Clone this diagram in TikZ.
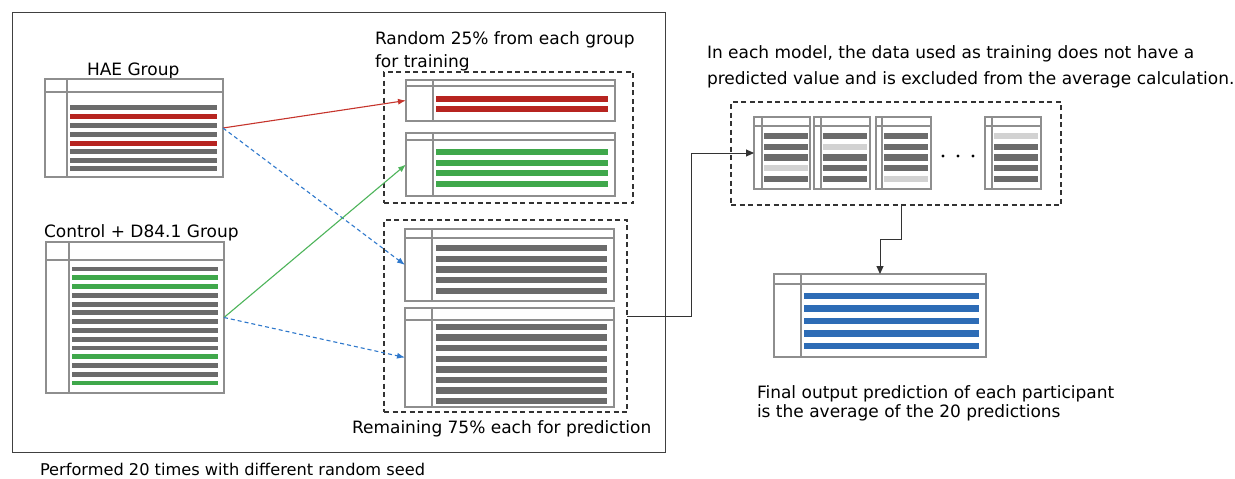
\documentclass[tikz,border=0pt]{standalone}
\usepackage{fontspec}
\setmainfont{DejaVu Sans}
\usetikzlibrary{arrows.meta}
\definecolor{tblline}{HTML}{8E8E8E}
\definecolor{framecol}{HTML}{404040}
\definecolor{dbar}{HTML}{6B6B6B}
\definecolor{lbar}{HTML}{D2D2D2}
\definecolor{rbar}{HTML}{B72420}
\definecolor{gbar}{HTML}{3FA84B}
\definecolor{bbar}{HTML}{2D6CB6}
\definecolor{redarrow}{HTML}{C6342C}
\definecolor{greenarrow}{HTML}{4DB45A}
\definecolor{bluearrow}{HTML}{2E78CC}
\definecolor{darkline}{HTML}{333333}
\tikzset{
  tblbox/.style={draw=tblline, line width=1.1pt, anchor=north west, inner sep=0pt, outer sep=0pt},
  tblinner/.style={draw=tblline, line width=1.1pt},
  dashbox/.style={draw=darkline, line width=1.3pt, dash pattern=on 5pt off 3.5pt, anchor=north west, inner sep=0pt, outer sep=0pt},
  lbl/.style={anchor=base west, inner sep=0pt, outer sep=0pt, text=black},
  redarr/.style={draw=redarrow, line width=1.1pt, -{Latex[length=8pt,width=6pt]}},
  greenarr/.style={draw=greenarrow, line width=1.1pt, -{Latex[length=8pt,width=6pt]}},
  bluearr/.style={draw=bluearrow, line width=1.1pt, dash pattern=on 4pt off 3pt, -{Latex[length=8pt,width=6pt]}},
  blkarr/.style={draw=darkline, line width=1pt, -{Triangle[length=8pt,width=7pt]}},
}
% name, x1, y1, x2, y2, vertical-line x, header-line y
\newcommand{\mytable}[7]{%
  \node[tblbox, minimum width={(#4-#2)*1pt}, minimum height={(#5-#3)*1pt}] (#1) at (#2,#3) {};
  \draw[tblinner] (#6,#3) -- (#6,#5);
  \draw[tblinner] (#2,#7) -- (#4,#7);
}
% x1, x2, half height, list of y/colour
\newcommand{\tbars}[4]{%
  \foreach \yy/\cc in {#4} {\fill[\cc] (#1,{\yy-#3}) rectangle (#2,{\yy+#3});}
}
\newcommand{\dashrect}[5]{%
  \node[dashbox, minimum width={(#4-#2)*1pt}, minimum height={(#5-#3)*1pt}] (#1) at (#2,#3) {};
}
\begin{document}
\begin{tikzpicture}[x=1pt,y=-1pt,font=\fontsize{17}{20}\selectfont]
\useasboundingbox (0,0) rectangle (1235,479);
\fill[white] (0,0) rectangle (1235,479);

% outer frame
\node[draw=framecol, line width=1pt, anchor=north west, inner sep=0pt, outer sep=0pt,
      minimum width=653pt, minimum height=440pt] (frame) at (12,12) {};

% labels
\node[lbl] (haet) at (87,75) {HAE Group};
\node[lbl] (ctrlt) at (44,237) {Control + D84.1 Group};
\node[lbl] (traint1) at (375,44) {Random 25\% from each group};
\node[lbl] (traint2) at (375,67) {for training};
\node[lbl] (predt) at (352,433) {Remaining 75\% each for prediction};
\node[lbl, font=\fontsize{16.2}{19}\selectfont] (perft) at (40,475) {Performed 20 times with different random seed};
\node[lbl] (modelt1) at (707,58) {In each model, the data used as training does not have a};
\node[lbl] (modelt2) at (707,84) {predicted value and is excluded from the average calculation.};
\node[lbl] (finalt1) at (757,398) {Final output prediction of each participant};
\node[lbl] (finalt2) at (757,417) {is the average of the 20 predictions};

% HAE group table
\mytable{hae}{45}{79}{223}{177}{67}{92}
\tbars{70}{217}{2.5}{107/dbar,116/rbar,125/dbar,134/dbar,143/rbar,151.5/dbar,160.5/dbar,168.5/dbar}

% Control group table
\mytable{ctrl}{46}{242}{224}{393}{69}{260}
\tbars{72}{218}{2.4}{269/dbar,277.8/gbar,286.5/gbar,295.3/dbar,304.1/dbar,312.8/dbar,321.6/dbar,330.4/dbar,339.2/dbar,347.9/dbar,356.7/gbar,365.5/dbar,374.2/dbar,383/gbar}

% training box
\dashrect{trainbox}{384}{72}{633}{203}
\mytable{red}{406}{80}{615}{121}{433}{86}
\tbars{436}{608}{2.7}{99/rbar,109/rbar}
\mytable{green}{406}{133}{615}{196}{433}{140}
\tbars{436}{608}{3}{152/gbar,162.7/gbar,173.3/gbar,184/gbar}

% prediction box
\dashrect{predbox}{384}{220}{627}{412}
\mytable{grayA}{405}{229}{614}{301}{432}{238}
\tbars{436}{607}{3.2}{248/dbar,258.8/dbar,269.5/dbar,280.2/dbar,291/dbar}
\mytable{grayB}{405}{308}{614}{407}{432}{320}
\tbars{436}{607}{3.2}{327/dbar,337.6/dbar,348.1/dbar,358.7/dbar,369.3/dbar,379.9/dbar,390.4/dbar,401/dbar}

% models box
\dashrect{modelsbox}{731}{102}{1061}{205}
\mytable{mA}{754}{117}{810}{189}{762}{126}
\tbars{764}{808}{3.2}{136/dbar,146.8/dbar,157.5/dbar,168.2/lbar,179/dbar}
\mytable{mB}{814}{117}{870}{189}{821}{126}
\tbars{823}{867}{3.2}{136/dbar,146.8/lbar,157.5/dbar,168.2/dbar,179/dbar}
\mytable{mC}{876}{117}{931}{189}{882}{126}
\tbars{884}{928}{3.2}{136/dbar,146.8/dbar,157.5/dbar,168.2/dbar,179/lbar}
\mytable{mD}{985}{117}{1041}{189}{992}{126}
\tbars{994}{1038}{3.2}{136/lbar,146.8/dbar,157.5/dbar,168.2/dbar,179/dbar}
\fill[black] (943,156) circle (1.6) (958,156) circle (1.6) (973,156) circle (1.6);

% final table
\mytable{final}{774}{274}{986}{357}{801}{284}
\tbars{804}{979}{3.2}{296/bbar,308.5/bbar,321/bbar,333.5/bbar,346/bbar}

% connectors
\draw[redarr] (hae.east) -- (red.west);
\draw[bluearr] (hae.east) -- (grayA.west);
\draw[greenarr] (ctrl.east) -- (green.west);
\draw[bluearr] (ctrl.east) -- (grayB.west);
\draw[blkarr] (predbox.east) -- ++(64,0) |- (mA.west);
\draw[blkarr] ([xshift=5pt]modelsbox.south) -- ++(0,34) -| (final.north);
\end{tikzpicture}
\end{document}
